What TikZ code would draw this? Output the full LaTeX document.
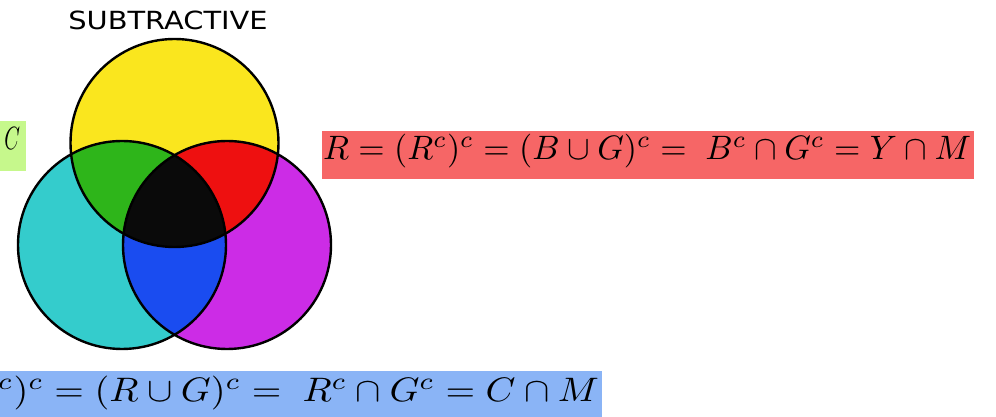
\documentclass[tikz,border=0pt]{standalone}
\usepackage{fontspec}
\usepackage{graphicx}
\newfontfamily\labelfont{DejaVu Sans}
\definecolor{cyel}{RGB}{250,230,30}
\definecolor{ccyan}{RGB}{52,204,204}
\definecolor{cmag}{RGB}{204,44,230}
\definecolor{cgreen}{RGB}{46,181,26}
\definecolor{cred}{RGB}{238,16,16}
\definecolor{cblue}{RGB}{26,76,240}
\definecolor{cblack}{RGB}{10,10,10}
\definecolor{redbox}{RGB}{246,102,102}
\definecolor{bluebox}{RGB}{138,180,246}
\definecolor{greenbox}{RGB}{198,248,140}
\tikzset{
  eqtext/.style={inner sep=0pt, outer sep=0pt},
  outline/.style={draw=black, line width=2.4pt}
}
\begin{document}
\begin{tikzpicture}[x=1pt,y=1pt]
\clip (0,0) rectangle (996,417);
\fill[white] (0,0) rectangle (996,417);
% circles
\coordinate (Yc) at (174.5,274);
\coordinate (Cc) at (122,172);
\coordinate (Mc) at (227,172);
\fill[cyel] (Yc) circle (104);
\fill[ccyan] (Cc) circle (104);
\fill[cmag] (Mc) circle (104);
\begin{scope}
  \clip (Yc) circle (104);
  \fill[cgreen] (Cc) circle (104);
  \fill[cred] (Mc) circle (104);
  \clip (Cc) circle (104);
  \fill[cblack] (Mc) circle (104);
\end{scope}
\begin{scope}
  \clip (Cc) circle (104);
  \begin{scope}
    \clip (Mc) circle (104);
    \fill[cblue] (Mc) circle (104);
    \fill[cblack] (Yc) circle (104);
  \end{scope}
\end{scope}
\draw[outline] (Yc) circle (104);
\draw[outline] (Cc) circle (104);
\draw[outline] (Mc) circle (104);
% title
\node[inner sep=0pt] (title) at (168,397)
  {\scalebox{1.155}[1]{\labelfont\fontsize{25}{25}\selectfont SUBTRACTIVE}};
% boxes
\fill[redbox] (322,238) rectangle (974,286);
\fill[bluebox] (0,0) rectangle (602,46);
\fill[greenbox] (0,246) rectangle (26,296);
\node[eqtext, anchor=base west] (reqn) at (323,257)
  {\resizebox{648pt}{!}{$R = (R^c)^c = (B \cup G)^c = \;B^c \cap G^c = Y \cap M$}};
\node[eqtext, anchor=base east] (beqn) at (599,15)
  {\scalebox{1.12}[1]{\resizebox{650pt}{!}{$B = (B^c)^c = (R \cup G)^c = \;R^c \cap G^c = C \cap M$}}};
\node[eqtext, anchor=base east] (geqn) at (20,267)
  {\scalebox{0.62}[1]{\resizebox{!}{22pt}{$C$}}};
\end{tikzpicture}
\end{document}
